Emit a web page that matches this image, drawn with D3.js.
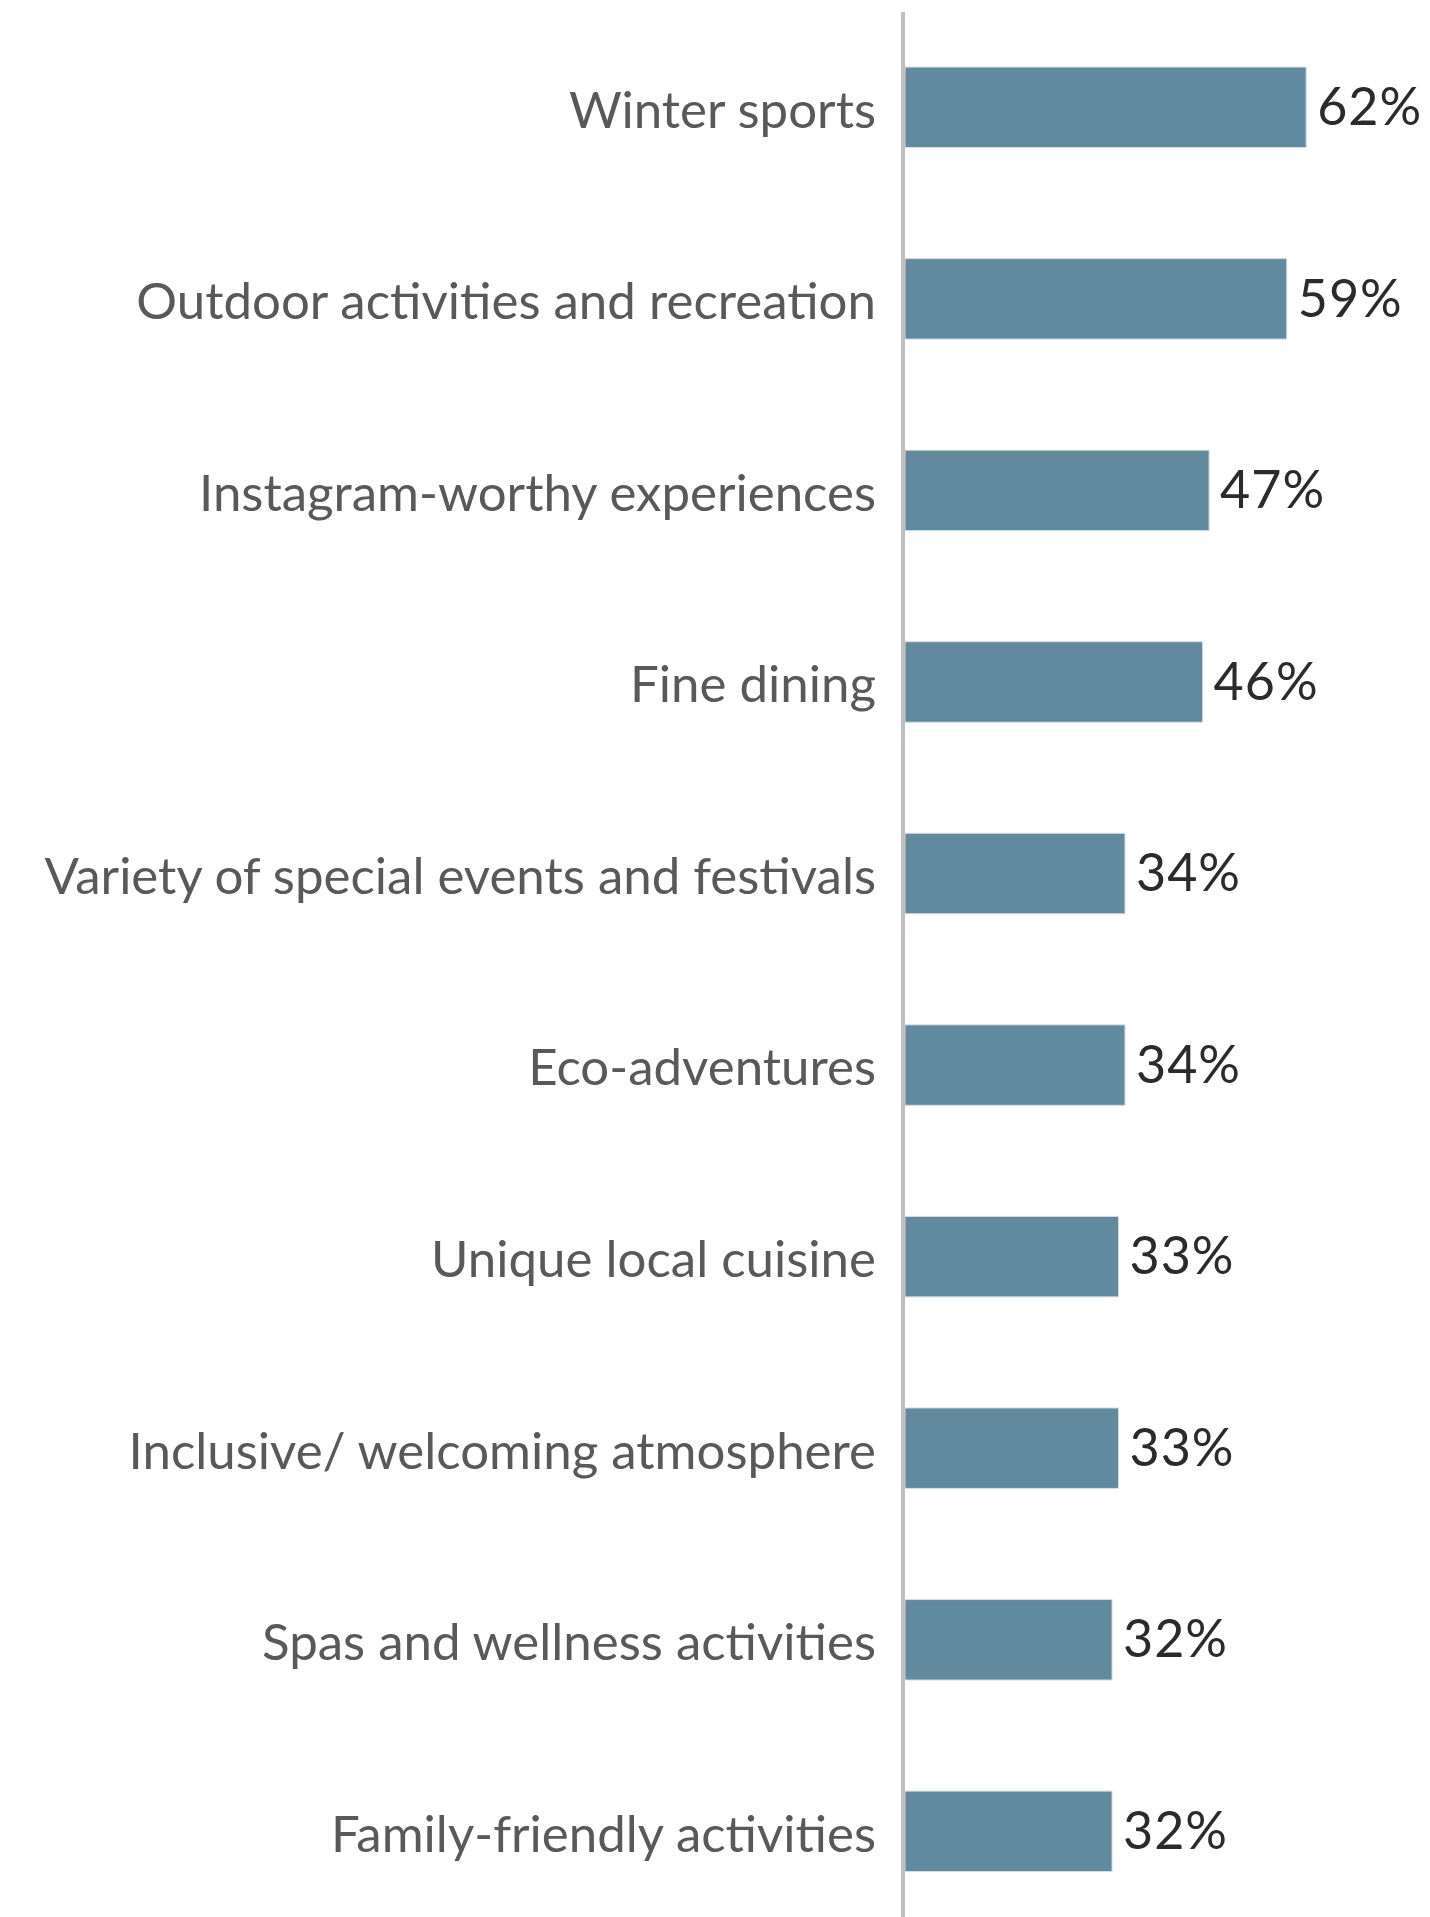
<!DOCTYPE html>
<html>
<head>
<meta charset="utf-8">
<script src="https://cdn.jsdelivr.net/npm/d3@7"></script>
<style>
  html, body { margin: 0; padding: 0; background: #ffffff; }
  svg { display: block; }
</style>
</head>
<body>
<svg id="chart" width="1430" height="1917"></svg>
<script>
// Share of respondents choosing each attraction (percent)
const categories = [
  "Winter sports",
  "Outdoor activities and recreation",
  "Instagram-worthy experiences",
  "Fine dining",
  "Variety of special events and festivals",
  "Eco-adventures",
  "Unique local cuisine",
  "Inclusive/ welcoming atmosphere",
  "Spas and wellness activities",
  "Family-friendly activities"
];
const values = [62, 59, 47, 46, 34, 34, 33, 33, 32, 32];

const W = 1430, H = 1917;
const axisX = 903;
const barX0 = 905;

const svg = d3.select("#chart");

const x = d3.scaleLinear()
  .domain([0, 100])
  .range([barX0, barX0 + 647]);

const y = d3.scaleBand()
  .domain(categories)
  .range([11.5, 11.5 + 191.56 * categories.length])
  .paddingInner(0.58)
  .paddingOuter(0.29);

const rows = categories.map((c, i) => ({ cat: c, val: values[i] }));

// bars
svg.append("g")
  .selectAll("rect")
  .data(rows)
  .join("rect")
  .attr("x", x(0))
  .attr("y", d => y(d.cat))
  .attr("width", d => x(d.val) - x(0))
  .attr("height", y.bandwidth())
  .attr("fill", "#628a9e")
  .attr("stroke", "#d6dde1")
  .attr("stroke-width", 1);

// vertical category axis line
svg.append("line")
  .attr("x1", axisX).attr("x2", axisX)
  .attr("y1", 12).attr("y2", H)
  .attr("stroke", "#bfbfbf")
  .attr("stroke-width", 4);

// category labels
svg.append("g")
  .selectAll("text")
  .data(rows)
  .join("text")
  .attr("x", axisX - 27)
  .attr("y", d => y(d.cat) + y.bandwidth() / 2)
  .attr("dy", "0.40em")
  .attr("text-anchor", "end")
  .attr("font-family", "Lato, 'Open Sans', sans-serif")
  .attr("font-size", 51)
  .attr("fill", "#595959")
  .text(d => d.cat);

// value labels
svg.append("g")
  .selectAll("text")
  .data(rows)
  .join("text")
  .attr("x", d => x(d.val) + 11)
  .attr("y", d => y(d.cat) + y.bandwidth() / 2)
  .attr("dy", "0.34em")
  .attr("text-anchor", "start")
  .attr("font-family", "Lato, 'Open Sans', sans-serif")
  .attr("font-size", 52)
  .attr("letter-spacing", "1px")
  .attr("fill", "#2b2b2b")
  .text(d => d.val + "%");
</script>
</body>
</html>
